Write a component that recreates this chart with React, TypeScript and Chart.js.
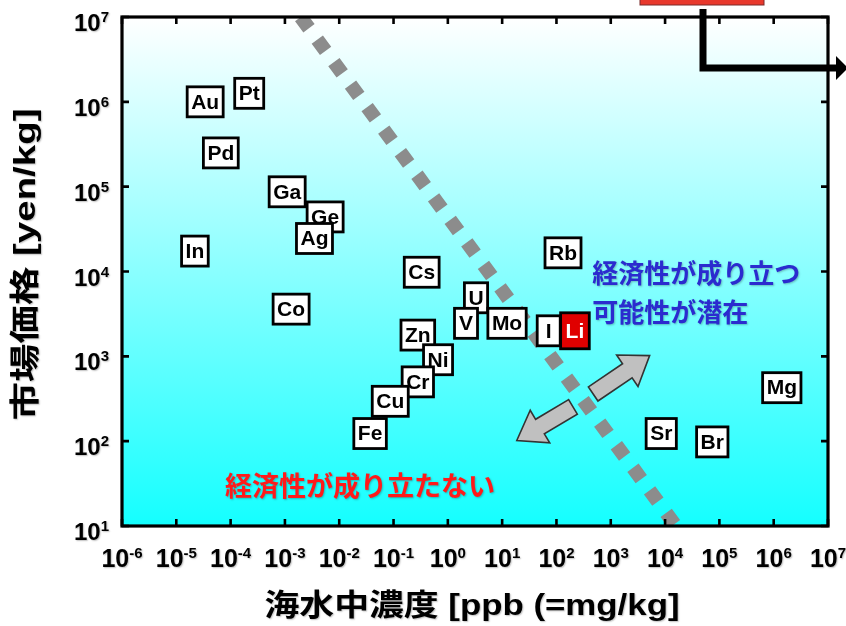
import { useEffect, useRef } from 'react';
import { Chart, registerables } from 'chart.js';

Chart.register(...registerables);

// ---- data ----
const elementLabels = ['Au', 'Pt', 'Pd', 'Ga', 'Ge', 'Ag', 'In', 'Co', 'Cs', 'U', 'V', 'Mo', 'I', 'Li', 'Zn', 'Ni', 'Cr', 'Cu', 'Fe', 'Rb', 'Sr', 'Br', 'Mg'];
const concentrationPpb = [3.4e-5, 2.2e-4, 6.6e-5, 1.1e-3, 5.5e-3, 3.5e-3, 2.2e-5, 1.3e-3, 0.33, 3.3, 2.16, 12.3, 72, 219, 0.28, 0.66, 0.28, 0.087, 0.037, 132, 8.5e3, 7.4e4, 1.41e6];
const priceYenPerKg = [1.0e6, 1.26e6, 2.5e5, 8.7e4, 4.4e4, 2.45e4, 1.74e4, 3.6e3, 9.8e3, 4.9e3, 2.45e3, 2.45e3, 2.0e3, 2.0e3, 1.78e3, 912, 500, 295, 123, 1.66e4, 123, 98, 427];
const highlightedElements = ['Li'];

// economic boundary (dashed line)
const boundaryConcentration = [1.95e-3, 1.58e4];
const boundaryPrice = [1e7, 1e1];

// double arrow (lower tip, crossing point, upper tip)
const arrowConcentration = [18.6, 309, 5.2e3];
const arrowPrice = [102, 302, 1.02e3];

// axis ticks
const xTickExponents = [-6, -5, -4, -3, -2, -1, 0, 1, 2, 3, 4, 5, 6, 7];
const yTickExponents = [1, 2, 3, 4, 5, 6, 7];

// texts
const xTitle = '海水中濃度 [ppb (=mg/kg]';
const yTitle = '市場価格 [yen/kg]';
const feasibleLines = ['経済性が成り立つ', '可能性が潜在'];
const feasibleAnchorX = 457;
const feasibleAnchorY = [9.5e3, 3.3e3];
const infeasibleText = '経済性が成り立たない';
const infeasibleAnchorX = 7.9e-5;
const infeasibleAnchorY = 30.2;

const LATIN = '"Liberation Sans", Arial, "Noto Sans CJK JP", sans-serif';
const CJK = '"Noto Sans CJK JP", "Noto Sans CJK SC", sans-serif';

function drawArrow(ctx: CanvasRenderingContext2D, fx: number, fy: number, tx: number, ty: number) {
  const dx = tx - fx;
  const dy = ty - fy;
  const len = Math.hypot(dx, dy);
  const ux = dx / len;
  const uy = dy / len;
  const nx = -uy;
  const ny = ux;
  const sw = 8.5;
  const hw = 19;
  const hl = 27;
  const bx = tx - ux * hl;
  const by = ty - uy * hl;
  ctx.beginPath();
  ctx.moveTo(fx + nx * sw, fy + ny * sw);
  ctx.lineTo(bx + nx * sw, by + ny * sw);
  ctx.lineTo(bx + nx * hw, by + ny * hw);
  ctx.lineTo(tx, ty);
  ctx.lineTo(bx - nx * hw, by - ny * hw);
  ctx.lineTo(bx - nx * sw, by - ny * sw);
  ctx.lineTo(fx - nx * sw, fy - ny * sw);
  ctx.closePath();
  ctx.fillStyle = '#c0c0c0';
  ctx.fill();
  ctx.lineWidth = 1.6;
  ctx.strokeStyle = '#333333';
  ctx.stroke();
}

function drawStretchedText(ctx: CanvasRenderingContext2D, text: string, cx: number, cy: number, targetLen: number, rotate: boolean) {
  ctx.save();
  ctx.translate(cx, cy);
  if (rotate) ctx.rotate(-Math.PI / 2);
  const w = ctx.measureText(text).width;
  ctx.scale(targetLen / w, 1);
  ctx.textAlign = 'center';
  ctx.textBaseline = 'middle';
  ctx.fillText(text, 0, 0);
  ctx.restore();
}

const decorPlugin = {
  id: 'decor',
  beforeDatasetsDraw(chart: any) {
    const { ctx, chartArea: a } = chart;
    ctx.save();
    const g = ctx.createLinearGradient(0, a.top, 0, a.bottom);
    g.addColorStop(0, '#ffffff');
    g.addColorStop(1, '#14ffff');
    ctx.fillStyle = g;
    ctx.fillRect(a.left, a.top, a.right - a.left, a.bottom - a.top);
    ctx.restore();
  },
  afterDatasetsDraw(chart: any) {
    const { ctx, chartArea: a } = chart;
    const xs = chart.scales.x;
    const ys = chart.scales.y;
    ctx.save();

    // double arrow split by the boundary line
    const p0x = xs.getPixelForValue(arrowConcentration[0]);
    const p0y = ys.getPixelForValue(arrowPrice[0]);
    const pcx = xs.getPixelForValue(arrowConcentration[1]);
    const pcy = ys.getPixelForValue(arrowPrice[1]);
    const p2x = xs.getPixelForValue(arrowConcentration[2]);
    const p2y = ys.getPixelForValue(arrowPrice[2]);
    const gdx = p2x - p0x;
    const gdy = p2y - p0y;
    const gl = Math.hypot(gdx, gdy);
    const gux = gdx / gl;
    const guy = gdy / gl;
    const gap = 12;
    drawArrow(ctx, pcx - gux * gap, pcy - guy * gap, p0x, p0y);
    drawArrow(ctx, pcx + gux * gap, pcy + guy * gap, p2x, p2y);

    // element boxes
    ctx.font = `bold 21px ${LATIN}`;
    ctx.textAlign = 'center';
    ctx.textBaseline = 'middle';
    elementLabels.forEach((lab, i) => {
      const px = xs.getPixelForValue(concentrationPpb[i]);
      const py = ys.getPixelForValue(priceYenPerKg[i]);
      const hi = highlightedElements.includes(lab);
      const tw = ctx.measureText(lab).width;
      const w = Math.max(tw + 8, 23) + (hi ? 2 : 0);
      const h = hi ? 36 : 30;
      ctx.fillStyle = hi ? '#e00000' : '#ffffff';
      ctx.fillRect(px - w / 2, py - h / 2, w, h);
      ctx.lineWidth = 2.8;
      ctx.strokeStyle = '#000000';
      ctx.strokeRect(px - w / 2, py - h / 2, w, h);
      ctx.fillStyle = hi ? '#ffffff' : '#000000';
      ctx.fillText(lab, px, py + 1);
    });

    // annotation texts
    ctx.shadowColor = 'rgba(0,0,0,0.25)';
    ctx.shadowBlur = 2;
    ctx.shadowOffsetX = 1;
    ctx.shadowOffsetY = 1;
    ctx.textAlign = 'left';
    ctx.textBaseline = 'middle';
    ctx.font = `bold 26px ${CJK}`;
    ctx.fillStyle = '#2b2bcf';
    feasibleLines.forEach((t, i) => {
      ctx.fillText(t, xs.getPixelForValue(feasibleAnchorX), ys.getPixelForValue(feasibleAnchorY[i]));
    });
    ctx.font = `bold 27px ${CJK}`;
    ctx.fillStyle = '#ff1a1a';
    ctx.fillText(infeasibleText, xs.getPixelForValue(infeasibleAnchorX), ys.getPixelForValue(infeasibleAnchorY));
    ctx.shadowColor = 'transparent';

    // plot frame
    ctx.lineWidth = 3.2;
    ctx.strokeStyle = '#000000';
    ctx.strokeRect(a.left, a.top, a.right - a.left, a.bottom - a.top);

    // inward ticks
    ctx.lineWidth = 2.6;
    ctx.beginPath();
    xTickExponents.forEach((e) => {
      const x = xs.getPixelForValue(Math.pow(10, e));
      ctx.moveTo(x, a.bottom);
      ctx.lineTo(x, a.bottom - 7);
      ctx.moveTo(x, a.top);
      ctx.lineTo(x, a.top + 7);
    });
    yTickExponents.forEach((e) => {
      const y = ys.getPixelForValue(Math.pow(10, e));
      ctx.moveTo(a.left, y);
      ctx.lineTo(a.left + 7, y);
      ctx.moveTo(a.right, y);
      ctx.lineTo(a.right - 7, y);
    });
    ctx.stroke();

    // tick labels with superscripts
    ctx.shadowColor = 'rgba(0,0,0,0.25)';
    ctx.shadowBlur = 1.5;
    ctx.shadowOffsetX = 1;
    ctx.shadowOffsetY = 1;
    ctx.fillStyle = '#000000';
    ctx.textBaseline = 'alphabetic';
    ctx.textAlign = 'left';
    xTickExponents.forEach((e) => {
      const x = xs.getPixelForValue(Math.pow(10, e));
      ctx.font = `bold 25px ${LATIN}`;
      const wb = ctx.measureText('10').width;
      ctx.font = `bold 15px ${LATIN}`;
      const es = String(e);
      const we = ctx.measureText(es).width;
      const start = x - (wb + we) / 2;
      const base = a.bottom + 41;
      ctx.font = `bold 25px ${LATIN}`;
      ctx.fillText('10', start, base);
      ctx.font = `bold 15px ${LATIN}`;
      ctx.fillText(es, start + wb, base - 9);
    });
    yTickExponents.forEach((e) => {
      const y = ys.getPixelForValue(Math.pow(10, e));
      ctx.font = `bold 15px ${LATIN}`;
      const es = String(e);
      const we = ctx.measureText(es).width;
      ctx.font = `bold 24px ${LATIN}`;
      const wb = ctx.measureText('10').width;
      const right = a.left - 13;
      const base = y + 14;
      ctx.fillText('10', right - we - wb, base);
      ctx.font = `bold 15px ${LATIN}`;
      ctx.fillText(es, right - we, base - 9);
    });

    // axis titles
    ctx.font = `bold 30px ${LATIN}`;
    drawStretchedText(ctx, xTitle, (a.left + a.right) / 2 - 3, a.bottom + 81, 415, false);
    drawStretchedText(ctx, yTitle, 27, (a.top + a.bottom) / 2 - 7, 312, true);
    ctx.shadowColor = 'transparent';

    // slide decoration at top right (red tab and bracket arrow)
    const W = chart.width;
    ctx.fillStyle = '#e8382c';
    ctx.fillRect(a.right - 188, -2, 124, 7);
    ctx.lineWidth = 1;
    ctx.strokeStyle = '#7a2a2a';
    ctx.strokeRect(a.right - 188, -2, 124, 7);
    ctx.lineWidth = 7;
    ctx.strokeStyle = '#000000';
    ctx.lineCap = 'butt';
    ctx.lineJoin = 'miter';
    ctx.beginPath();
    ctx.moveTo(a.right - 125, 9);
    ctx.lineTo(a.right - 125, 68);
    ctx.lineTo(W - 8, 68);
    ctx.stroke();
    ctx.fillStyle = '#000000';
    ctx.beginPath();
    ctx.moveTo(W - 10, 56);
    ctx.lineTo(W + 2, 68);
    ctx.lineTo(W - 10, 80);
    ctx.closePath();
    ctx.fill();

    ctx.restore();
  },
};

export default function App() {
  const ref = useRef<HTMLCanvasElement | null>(null);
  useEffect(() => {
    document.body.style.margin = '0';
    document.body.style.background = '#ffffff';
    if (!ref.current) return;
    const pts = elementLabels.map((lab, i) => ({ x: concentrationPpb[i], y: priceYenPerKg[i] }));
    const boundary = boundaryConcentration.map((x, i) => ({ x, y: boundaryPrice[i] }));
    const chart = new Chart(ref.current, {
      type: 'scatter',
      data: {
        datasets: [
          {
            type: 'line',
            label: 'boundary',
            data: boundary,
            borderColor: '#8c8c8c',
            borderWidth: 14,
            borderDash: [14, 14],
            borderCapStyle: 'butt',
            pointRadius: 0,
            fill: false,
            showLine: true,
          } as any,
          {
            label: 'elements',
            data: pts,
            pointRadius: 0,
            pointHoverRadius: 0,
          },
        ],
      },
      options: {
        responsive: false,
        animation: false,
        events: [],
        layout: { padding: { top: 17, right: 18, left: 0, bottom: 0 } },
        plugins: { legend: { display: false }, tooltip: { enabled: false } },
        scales: {
          x: {
            type: 'logarithmic',
            min: 1e-6,
            max: 1e7,
            grid: { display: false },
            border: { display: false },
            ticks: { display: false },
            afterFit: (s: any) => { s.height = 100; },
          },
          y: {
            type: 'logarithmic',
            min: 1e1,
            max: 1e7,
            grid: { display: false },
            border: { display: false },
            ticks: { display: false },
            afterFit: (s: any) => { s.width = 122; },
          },
        },
      },
      plugins: [decorPlugin],
    });
    return () => chart.destroy();
  }, []);
  return (
    <div style={{ width: 846, height: 626 }}>
      <canvas ref={ref} width={846} height={626} />
    </div>
  );
}
